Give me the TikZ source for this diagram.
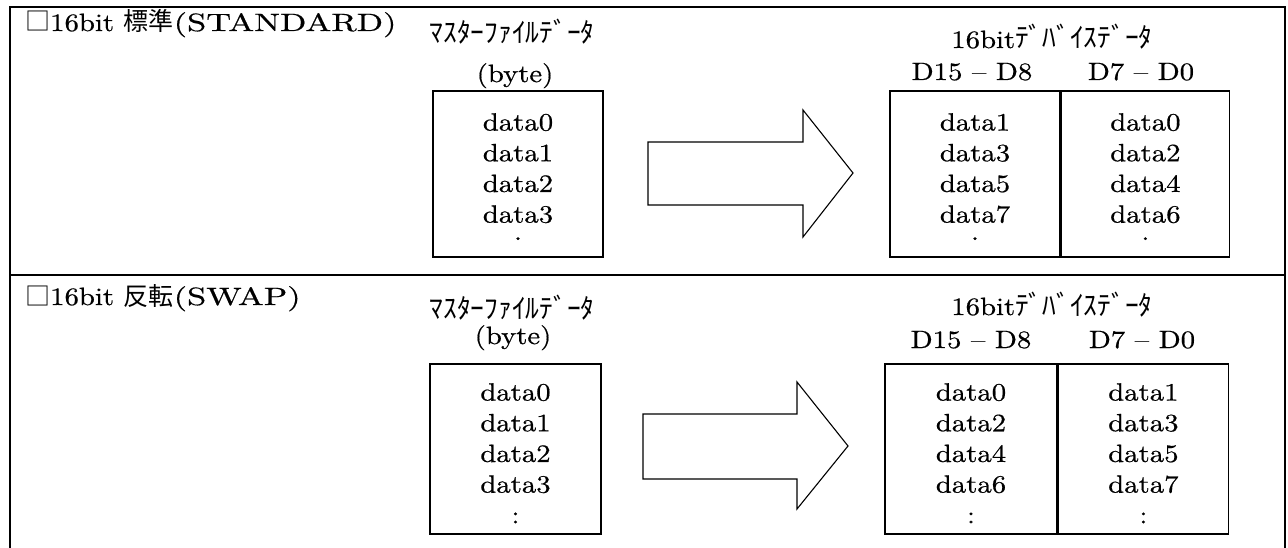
\documentclass[tikz,border=0pt]{standalone}
\usepackage{fontspec}
\setmainfont{lmroman10-regular}[Extension=.otf, FakeStretch=1.15, FakeBold=0.6]
\newfontfamily\widefont{lmroman10-regular}[Extension=.otf, FakeStretch=1.38, FakeBold=0.6]
\newfontfamily\jpfont{Noto Sans CJK JP}
\usetikzlibrary{positioning}
\newcommand\datafont{\fontsize{25}{30.7}\selectfont}
\newcommand\kanafont{\jpfont\fontsize{27.5}{30}\selectfont}
\tikzset{
  frame/.style={line width=1.6pt},
  cell/.style={draw, line width=1.4pt, inner sep=0pt},
  col/.style={inner sep=0pt, anchor=north, align=center, font=\datafont},
  lbl/.style={inner sep=0pt, anchor=base, font=\datafont},
  kana/.style={inner sep=0pt, anchor=base, font=\kanafont},
  bigarrow/.style={draw, line width=1.1pt, line join=miter}
}
\begin{document}
\begin{tikzpicture}[x=1pt,y=-1pt]
\useasboundingbox (0,0) rectangle (1288,548);
\draw[frame] (10,548) -- (10,7) -- (1285,7) -- (1285,548);
\draw[frame] (10,275) -- (1285,275);

% standard
\node[lbl, anchor=base west] (title1) at (25,31) {{\jpfont □}16bit {\jpfont 標準}{\widefont(STANDARD)}};
\node[kana] (mst1) at (512,43) {ﾏｽﾀｰﾌｧｲﾙﾃﾞｰﾀ};
\node[lbl] (byte1) at (515,82) {(byte)};
\node[cell, minimum width=170, minimum height=166] (src1) at (518,174) {};
\node[col] (srcdat1) at (518,113) {data0\\data1\\data2\\data3};
\node[lbl] (srcdot1) at (518,240) {.};
\draw[bigarrow] (648,142) -- (803,142) -- (803,110) -- (853,173) -- (803,237) -- (803,205) -- (648,205) -- cycle;
\node[lbl] (dev1) at (1052,48) {16bit{\kanafont ﾃﾞﾊﾞｲｽﾃﾞｰﾀ}};
\node[lbl] (hib1) at (972,80) {D15 – D8};
\node[lbl] (lob1) at (1141,80) {D7 – D0};
\node[cell, minimum width=170, minimum height=166] (hi1) at (975,174) {};
\node[cell, minimum width=168, minimum height=166, right=0pt of hi1] (lo1) {};
\node[col] (hidat1) at (hi1.center |- 0,113) {data1\\data3\\data5\\data7};
\node[col] (lodat1) at (lo1.center |- 0,113) {data0\\data2\\data4\\data6};
\node[lbl] (hidot1) at (hi1.center |- 0,240) {.};
\node[lbl] (lodot1) at (lo1.center |- 0,240) {.};

% swap
\node[lbl, anchor=base west] (title2) at (25,305) {{\jpfont □}16bit {\jpfont 反転}{\widefont(SWAP)}};
\node[kana] (mst2) at (512,318) {ﾏｽﾀｰﾌｧｲﾙﾃﾞｰﾀ};
\node[lbl] (byte2) at (513,344) {(byte)};
\node[cell, minimum width=171, minimum height=170] (src2) at (515.5,449) {};
\node[col] (srcdat2) at (515.5,383) {data0\\data1\\data2\\data3\\:};
\draw[bigarrow] (643,414) -- (797,414) -- (797,382) -- (848,446) -- (797,509) -- (797,479) -- (643,479) -- cycle;
\node[lbl] (dev2) at (1052,315) {16bit{\kanafont ﾃﾞﾊﾞｲｽﾃﾞｰﾀ}};
\node[lbl] (hib2) at (971,348) {D15 – D8};
\node[lbl] (lob2) at (1142,348) {D7 – D0};
\node[cell, minimum width=172, minimum height=170] (hi2) at (971,449) {};
\node[cell, minimum width=170, minimum height=170, right=0pt of hi2] (lo2) {};
\node[col] (hidat2) at (hi2.center |- 0,383) {data0\\data2\\data4\\data6\\:};
\node[col] (lodat2) at (lo2.center |- 0,383) {data1\\data3\\data5\\data7\\:};
\end{tikzpicture}
\end{document}
